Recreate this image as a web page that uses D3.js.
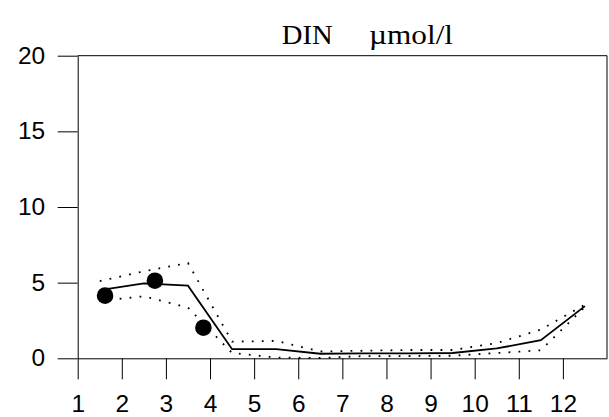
<!DOCTYPE html>
<html><head><meta charset="utf-8">
<script src="https://cdn.jsdelivr.net/npm/d3@7"></script>
<style>
html,body{margin:0;padding:0;background:#fff;}
svg{display:block;}
</style></head>
<body>
<svg id="chart" width="609" height="417"></svg>
<script>
// Data
const months = [1.5,2.5,3.5,4.5,5.5,6.5,7.5,8.5,9.5,10.5,11.5,12.5];
const meanValues  = [4.5, 4.95, 4.8, 0.6, 0.6, 0.3, 0.33, 0.33, 0.35, 0.65, 1.2, 3.45];
const upperValues = [5.1, 5.75, 6.3, 1.1, 1.15, 0.45, 0.5, 0.55, 0.55, 1.0, 1.9, 3.55];
const lowerValues = [3.8, 4.1, 3.35, 0.35, 0.05, 0.02, 0.15, 0.15, 0.17, 0.35, 0.53, 3.4];
const obsX = [1.62, 2.75, 3.85];
const obsY = [4.14, 5.13, 2.02];
const xTicks = [1,2,3,4,5,6,7,8,9,10,11,12];
const yTicks = [0,5,10,15,20];
const titleMain = "DIN";
const titleUnit = "\u00b5mol/l";

const svg = d3.select("#chart");
const mLeft = 77.7, mRight = 607, mTop = 55.7, mBottom = 358.3;
const x = d3.scaleLinear().domain([1,13]).range([mLeft,mRight]);
const y = d3.scaleLinear().domain([0,20]).range([mBottom,mTop]);
const font = "'Liberation Sans', Arial, sans-serif";
const fs = 23;

// frame top/right
svg.append("path")
  .attr("d", `M${mLeft},${mTop}H${mRight}V${mBottom}`)
  .attr("fill","none").attr("stroke","#000").attr("stroke-width",1);

// y axis
const gy = svg.append("g").attr("transform",`translate(${mLeft},0)`)
  .call(d3.axisLeft(y).tickValues(yTicks).tickSize(20).tickSizeOuter(0).tickPadding(12.5));
gy.selectAll("text").attr("font-family",font).attr("font-size",fs).attr("fill","#000")
  .attr("textLength",d=>String(d).length*13.6).attr("lengthAdjust","spacingAndGlyphs");
gy.selectAll("line,path").attr("stroke","#000");

// x axis
const gx = svg.append("g").attr("transform",`translate(0,${mBottom})`)
  .call(d3.axisBottom(x).tickValues(xTicks).tickSize(21).tickSizeOuter(0).tickPadding(16.3).tickFormat(d3.format("d")));
gx.selectAll("text").attr("font-family",font).attr("font-size",fs).attr("fill","#000")
  .attr("textLength",d=>String(d).length*13.6).attr("lengthAdjust","spacingAndGlyphs");
gx.selectAll("line,path").attr("stroke","#000");

// title
svg.append("text").attr("x",281.7).attr("y",44)
  .attr("font-family","'Liberation Serif','Times New Roman',serif").attr("font-size",28)
  .attr("textLength",51).attr("lengthAdjust","spacingAndGlyphs").text(titleMain);
svg.append("text").attr("x",369).attr("y",44)
  .attr("font-family","'Liberation Serif','Times New Roman',serif").attr("font-size",28)
  .attr("textLength",84).attr("lengthAdjust","spacingAndGlyphs").text(titleUnit);

const line = d3.line().x((d,i)=>x(months[i])).y(d=>y(d));

svg.append("path").datum(upperValues).attr("d",line)
  .attr("fill","none").attr("stroke","#000").attr("stroke-width",1.8)
  .attr("stroke-dasharray","1.8,8.2");
svg.append("path").datum(lowerValues).attr("d",line)
  .attr("fill","none").attr("stroke","#000").attr("stroke-width",1.8)
  .attr("stroke-dasharray","1.8,8.2");
svg.append("path").datum(meanValues).attr("d",line)
  .attr("fill","none").attr("stroke","#000").attr("stroke-width",1.8);

svg.selectAll("circle.obs").data(obsX).enter().append("circle")
  .attr("class","obs")
  .attr("cx",d=>x(d)).attr("cy",(d,i)=>y(obsY[i])).attr("r",8.3).attr("fill","#000");
</script>
</body></html>
